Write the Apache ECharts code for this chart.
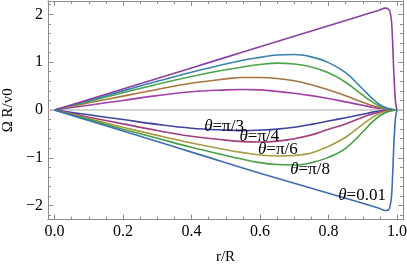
<!DOCTYPE html>
<html><head><meta charset="utf-8">
<script src="https://cdn.jsdelivr.net/npm/echarts@6/dist/echarts.min.js"></script>
<style>html,body{margin:0;padding:0;background:#fff}#c{width:407px;height:265px}</style>
</head><body><div id="c"></div>
<script>
// r/R sample points
const rS = [0,0.1,0.2,0.3,0.4,0.5,0.55,0.6,0.65,0.7,0.75,0.8,0.85,0.9,0.925,0.95,0.975,1];
const rE = [0,0.1,0.2,0.3,0.4,0.5,0.6,0.7,0.8,0.9,0.95,0.965,0.975,0.98,0.984,0.987,0.99,0.993,0.996,1];
// positive branch
const posA = [0,0.22,0.44,0.66,0.88,1.10,1.32,1.54,1.76,1.98,2.09,2.13,2.11,2.04,1.85,1.45,0.90,0.45,0.15,0];
const posB = [0,0.20,0.40,0.60,0.79,0.96,1.04,1.10,1.15,1.16,1.11,0.99,0.78,0.44,0.26,0.11,0.03,0];
const posC = [0,0.18,0.36,0.54,0.70,0.84,0.90,0.95,0.98,0.96,0.90,0.78,0.58,0.31,0.18,0.08,0.02,0];
const posD = [0,0.15,0.29,0.43,0.56,0.65,0.68,0.68,0.66,0.61,0.53,0.42,0.30,0.16,0.10,0.05,0.01,0];
const posE = [0,0.10,0.20,0.30,0.38,0.42,0.43,0.42,0.39,0.35,0.30,0.24,0.17,0.10,0.06,0.03,0.01,0];
// negative branch (labelled)
const neg001 = [0,-0.22,-0.44,-0.66,-0.88,-1.10,-1.32,-1.53,-1.74,-1.95,-2.06,-2.10,-2.09,-2.00,-1.80,-1.40,-0.85,-0.42,-0.14,0];
const negPi8 = [0,-0.20,-0.40,-0.59,-0.78,-0.95,-1.03,-1.10,-1.14,-1.15,-1.10,-0.99,-0.80,-0.46,-0.27,-0.12,-0.03,0];
const negPi6 = [0,-0.18,-0.36,-0.53,-0.69,-0.83,-0.89,-0.94,-0.96,-0.95,-0.90,-0.76,-0.57,-0.30,-0.17,-0.07,-0.02,0];
const negPi4 = [0,-0.15,-0.29,-0.43,-0.55,-0.63,-0.66,-0.67,-0.65,-0.60,-0.52,-0.40,-0.29,-0.15,-0.09,-0.04,-0.01,0];
const negPi3 = [0,-0.10,-0.20,-0.30,-0.38,-0.42,-0.43,-0.42,-0.40,-0.36,-0.30,-0.23,-0.16,-0.09,-0.05,-0.02,-0.01,0];
const labels = ['π/3','π/4','π/6','π/8','0.01'];
const labelAt = [[0.495,-0.34],[0.598,-0.55],[0.652,-0.82],[0.746,-1.25],[0.898,-1.79]];
// ticks
const xMajor = [0,0.2,0.4,0.6,0.8,1.0];
const xMinor = [0.05,0.1,0.15,0.25,0.3,0.35,0.45,0.5,0.55,0.65,0.7,0.75,0.85,0.9,0.95];
const yMajor = [-2,-1,0,1,2];
const yMinor = [-2.2,-1.8,-1.6,-1.4,-1.2,-0.8,-0.6,-0.4,-0.2,0.2,0.4,0.6,0.8,1.2,1.4,1.6,1.8,2.2];

const X0=-0.019, X1=1.0175, Y0=-2.288, Y1=2.278;
const frame='#8c8c8c';
const font='Liberation Serif';
function zip(xs,ys){return xs.map((x,i)=>[x,ys[i]]);}
function xa(pos,vals,len,lab){return {type:'value',position:pos,min:X0,max:X1,
  axisLine:{show:true,onZero:false,lineStyle:{color:frame,width:1}},splitLine:{show:false},
  axisTick:{show:true,inside:true,length:len,customValues:vals,lineStyle:{color:frame}},
  axisLabel:{show:lab,customValues:vals,formatter:v=>v.toFixed(1),color:'#000',fontFamily:font,fontSize:16,margin:4}};}
function ya(pos,vals,len,lab){return {type:'value',position:pos,min:Y0,max:Y1,
  axisLine:{show:true,onZero:false,lineStyle:{color:frame,width:1}},splitLine:{show:false},
  axisTick:{show:true,inside:true,length:len,customValues:vals,lineStyle:{color:frame}},
  axisLabel:{show:lab,customValues:vals,formatter:v=>(v<0?'\u2212'+(-v):''+v),color:'#000',fontFamily:font,fontSize:16,margin:5}};}
const xAxes=[xa('bottom',xMajor,5,true),xa('top',xMajor,5,false),xa('bottom',xMinor,3,false),xa('top',xMinor,3,false)];
const yAxes=[ya('left',yMajor,5,true),ya('right',yMajor,5,false),ya('left',yMinor,3,false),ya('right',yMinor,3,false)];
xAxes[0].name='r/R';xAxes[0].nameLocation='middle';xAxes[0].nameGap=30;
xAxes[0].nameTextStyle={color:'#000',fontFamily:font,fontSize:15};
yAxes[0].name='Ω R/v0';yAxes[0].nameLocation='middle';yAxes[0].nameGap=30;yAxes[0].nameRotate=90;
yAxes[0].nameTextStyle={color:'#000',fontFamily:font,fontSize:15};

function line(xs,ys,color,z){return {type:'line',data:zip(xs,ys),symbol:'none',smooth:0.4,
  lineStyle:{color:color,width:1.6},z:z||2,silent:true,animation:false};}
const series=[
  line(rS,posE,'#a33fa8'),line(rS,posD,'#a87540'),line(rS,posC,'#4aa64a'),line(rS,posB,'#3a82ad'),line(rE,posA,'#8b3fa5'),
  line(rS,negPi3,'#4242a0'),line(rS,negPi4,'#a33d80'),line(rS,negPi6,'#a89a40'),line(rS,negPi8,'#43a043'),line(rE,neg001,'#3d6db5')
];
series[0].markLine={silent:true,symbol:'none',label:{show:false},lineStyle:{color:'#c4c4c4',width:1.5,type:'solid'},data:[{yAxis:0}],z:1};
series.push({type:'scatter',data:[],silent:true,z:10,
  markPoint:{symbol:'circle',symbolSize:0,animation:false,
    label:{show:true,position:'inside',color:'#000',fontFamily:font,fontSize:17,
      rich:{t:{fontStyle:'italic',fontFamily:font,fontSize:17,color:'#000'}}},
    data:labels.map((l,i)=>({coord:labelAt[i],label:{formatter:'{t|θ}='+l}}))}});

const chart=echarts.init(document.getElementById('c'),null,{renderer:'canvas'});
chart.setOption({animation:false,backgroundColor:'#fff',
  grid:{left:48,right:4,top:1,bottom:45.5,containLabel:false,outerBoundsMode:'none'},
  xAxis:xAxes,yAxis:yAxes,series:series});
</script></body></html>
